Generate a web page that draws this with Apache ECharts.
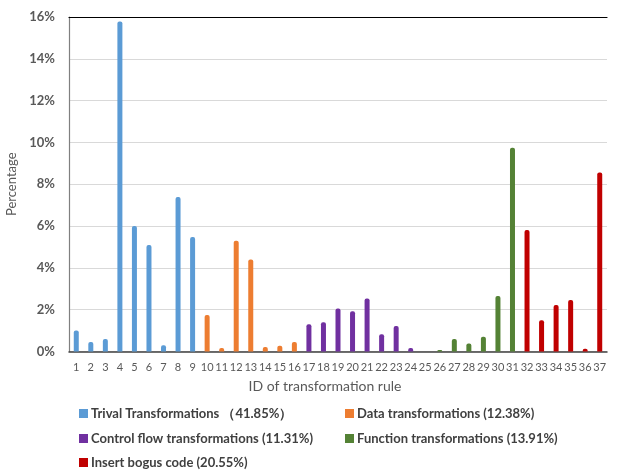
<!DOCTYPE html>
<html>
<head>
<meta charset="utf-8">
<script src="https://cdn.jsdelivr.net/npm/echarts@6/dist/echarts.min.js"></script>
<style>html,body{margin:0;padding:0;background:#fff}#c{width:618px;height:470px}</style>
</head>
<body>
<div id="c"></div>
<script>
const categories = Array.from({length: 37}, (_, i) => String(i + 1));
const trivalIds = [1, 2, 3, 4, 5, 6, 7, 8, 9];
const trivalValues = [1.0, 0.45, 0.6, 15.79, 6.0, 5.1, 0.3, 7.39, 5.48];
const dataIds = [10, 11, 12, 13, 14, 15, 16];
const dataValues = [1.74, 0.17, 5.3, 4.4, 0.22, 0.27, 0.46];
const controlIds = [17, 18, 19, 20, 21, 22, 23, 24];
const controlValues = [1.3, 1.4, 2.06, 1.93, 2.54, 0.83, 1.22, 0.17];
const functionIds = [25, 26, 27, 28, 29, 30, 31];
const functionValues = [0, 0.07, 0.6, 0.38, 0.7, 2.65, 9.75];
const bogusIds = [32, 33, 34, 35, 36, 37];
const bogusValues = [5.81, 1.5, 2.22, 2.46, 0.13, 8.56];
const seriesNames = [
  'Trival Transformations （41.85%）',
  'Data transformations (12.38%)',
  'Control flow transformations (11.31%)',
  'Function transformations (13.91%)',
  'Insert bogus code (20.55%)'
];
const yTicks = [0, 2, 4, 6, 8, 10, 12, 14, 16];

const colors = ['#5B9BD5', '#ED7D31', '#7030A0', '#548235', '#C00000'];
const groups = [
  [trivalIds, trivalValues], [dataIds, dataValues], [controlIds, controlValues],
  [functionIds, functionValues], [bogusIds, bogusValues]
];
function fill(ids, vals) {
  const arr = categories.map(() => null);
  ids.forEach((id, i) => { arr[id - 1] = vals[i]; });
  return arr;
}
const FONT = 'Lato, "Open Sans", sans-serif';
const series = groups.map((g, k) => ({
  name: seriesNames[k],
  type: 'bar',
  data: fill(g[0], g[1]),
  barWidth: 5,
  barGap: '-100%',
  itemStyle: { color: colors[k], borderRadius: [2, 2, 0, 0] }
}));
const legendPos = [
  { left: 79, top: 407 }, { left: 345, top: 407 },
  { left: 79, top: 432 }, { left: 345, top: 432 },
  { left: 79, top: 456 }
];
const legends = seriesNames.map((n, k) => ({
  data: [n],
  left: legendPos[k].left, top: legendPos[k].top,
  orient: 'horizontal',
  itemWidth: 9, itemHeight: 9,
  icon: 'rect',
  padding: 0,
  textStyle: { fontFamily: FONT, fontSize: 13, fontWeight: 'bold', color: '#404040', padding: [0, 0, 0, -2] },
  selectedMode: false
}));

const chart = echarts.init(document.getElementById('c'), null, { renderer: 'canvas' });
chart.setOption({
  animation: false,
  color: colors,
  grid: { left: 69, right: 11, top: 17, bottom: 118.5, containLabel: false, outerBoundsMode: 'none' },
  legend: legends,
  xAxis: [{
    type: 'category',
    data: categories,
    name: 'ID of transformation rule',
    nameLocation: 'middle',
    nameGap: 28,
    nameTextStyle: { fontFamily: FONT, fontSize: 14, color: '#595959', padding: [0, 26, 0, 0] },
    axisLine: { lineStyle: { color: '#404040', width: 1.5 } },
    axisTick: { show: false },
    axisLabel: { fontFamily: FONT, fontSize: 11, color: '#595959', margin: 10, interval: 0 }
  }, {
    type: 'category',
    data: categories,
    position: 'top',
    axisLine: { lineStyle: { color: '#000', width: 1.2 } },
    axisTick: { show: false },
    axisLabel: { show: false }
  }],
  yAxis: {
    type: 'value',
    min: yTicks[0], max: yTicks[yTicks.length - 1], interval: yTicks[1] - yTicks[0],
    name: 'Percentage',
    nameLocation: 'middle',
    nameGap: 45,
    nameTextStyle: { fontFamily: FONT, fontSize: 13, color: '#595959' },
    axisLine: { show: true, lineStyle: { color: '#808080', width: 1.2 } },
    axisTick: { show: false },
    axisLabel: { fontFamily: FONT, fontSize: 13, fontWeight: 'bold', color: '#595959', formatter: '{value}%', margin: 14 },
    splitLine: { lineStyle: { color: '#d9d9d9', width: 1 } }
  },
  series: series
});
</script>
</body>
</html>
